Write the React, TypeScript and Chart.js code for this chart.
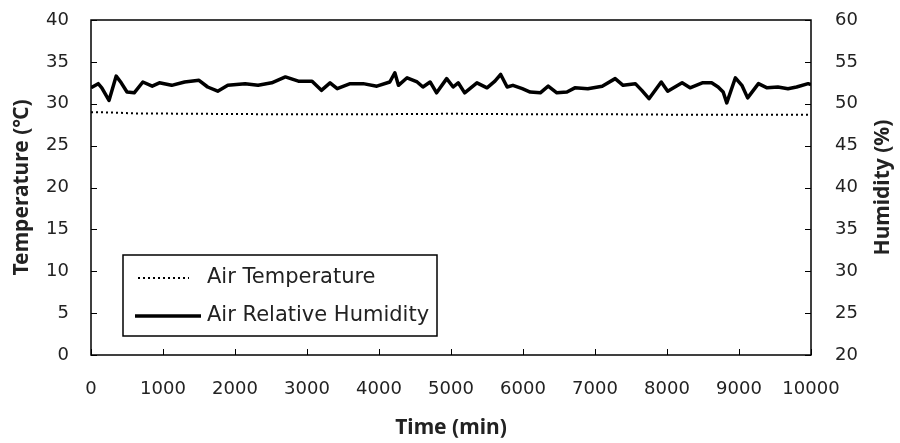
import React, { useEffect, useRef } from "react";
import { Chart, registerables } from "chart.js";

Chart.register(...registerables);

const humTimes = [0, 100, 150, 250, 350, 420, 500, 600, 720, 850, 950, 1120, 1300, 1500, 1620, 1760, 1900, 2140, 2320, 2510, 2700, 2880, 3070, 3200, 3320, 3420, 3600, 3780, 3970, 4150, 4220, 4270, 4390, 4530, 4610, 4710, 4800, 4940, 5030, 5100, 5190, 5360, 5500, 5610, 5690, 5780, 5860, 5990, 6100, 6240, 6350, 6470, 6610, 6720, 6900, 7100, 7280, 7390, 7560, 7650, 7750, 7920, 8010, 8210, 8320, 8490, 8620, 8710, 8780, 8830, 8950, 9040, 9120, 9270, 9390, 9540, 9680, 9800, 9960, 10000];
const humValues = [51.9, 52.4, 51.9, 50.4, 53.3, 52.5, 51.4, 51.3, 52.6, 52.1, 52.5, 52.2, 52.6, 52.8, 52.0, 51.5, 52.2, 52.4, 52.2, 52.5, 53.2, 52.7, 52.7, 51.6, 52.5, 51.8, 52.4, 52.4, 52.1, 52.6, 53.7, 52.2, 53.1, 52.6, 52.0, 52.6, 51.3, 53.0, 52.0, 52.5, 51.3, 52.5, 51.9, 52.7, 53.5, 52.0, 52.2, 51.8, 51.4, 51.3, 52.1, 51.3, 51.4, 51.9, 51.8, 52.1, 53.0, 52.2, 52.4, 51.6, 50.6, 52.6, 51.5, 52.5, 51.9, 52.5, 52.5, 52.0, 51.4, 50.1, 53.1, 52.2, 50.7, 52.4, 51.9, 52.0, 51.8, 52.0, 52.4, 52.3];

const tempTimes = [0, 300, 600, 1500, 2500, 4000, 5000, 6000, 7000, 8000, 9000, 10000];
const tempValues = [29.0, 28.95, 28.85, 28.8, 28.75, 28.75, 28.8, 28.75, 28.75, 28.7, 28.7, 28.7];

const xTicks = [0, 1000, 2000, 3000, 4000, 5000, 6000, 7000, 8000, 9000, 10000];
const tempTicks = [0, 5, 10, 15, 20, 25, 30, 35, 40];
const humTicks = [20, 25, 30, 35, 40, 45, 50, 55, 60];

const TICK_FONT = "'DejaVu Sans', sans-serif";
const TITLE_FONT = "'Noto Sans', sans-serif";
const TEXT = "#222";

const frameAndTicks = {
  id: "frameAndTicks",
  afterDatasetsDraw(chart: any) {
    const { ctx, chartArea } = chart;
    const { left, right, top, bottom } = chartArea;
    const sx = chart.scales.x;
    const sy = chart.scales.y;
    const sy2 = chart.scales.y2;
    ctx.save();
    ctx.strokeStyle = "#000";
    ctx.lineWidth = 1.5;
    ctx.strokeRect(left, top, right - left, bottom - top);
    ctx.lineWidth = 1;
    ctx.beginPath();
    xTicks.forEach((t) => {
      const px = Math.round(sx.getPixelForValue(t)) + 0.5;
      ctx.moveTo(px, bottom);
      ctx.lineTo(px, bottom - 6);
    });
    tempTicks.forEach((t) => {
      const py = Math.round(sy.getPixelForValue(t)) + 0.5;
      ctx.moveTo(left, py);
      ctx.lineTo(left + 6, py);
    });
    humTicks.forEach((t) => {
      const py = Math.round(sy2.getPixelForValue(t)) + 0.5;
      ctx.moveTo(right, py);
      ctx.lineTo(right - 6, py);
    });
    ctx.stroke();
    ctx.restore();
  },
};

const rightTitle = {
  id: "rightTitle",
  afterDraw(chart: any) {
    const { ctx, chartArea } = chart;
    const s = chart.scales.y2;
    ctx.save();
    ctx.translate(s.right - 17, (chartArea.top + chartArea.bottom) / 2);
    ctx.rotate(-Math.PI / 2);
    ctx.font = `bold 21px ${TITLE_FONT}`;
    ctx.fillStyle = TEXT;
    ctx.textAlign = "center";
    ctx.textBaseline = "middle";
    ctx.fillText("Humidity (%)", 0, 0);
    ctx.restore();
  },
};

const boxLegend = {
  id: "boxLegend",
  afterDraw(chart: any) {
    const { ctx, chartArea } = chart;
    const bx = chartArea.left + 32;
    const by = chartArea.top + 235;
    const bw = 314;
    const bh = 81;
    ctx.save();
    ctx.fillStyle = "#fff";
    ctx.fillRect(bx, by, bw, bh);
    ctx.strokeStyle = "#000";
    ctx.lineWidth = 1.5;
    ctx.strokeRect(bx, by, bw, bh);
    const rows = [
      { ds: chart.data.datasets[0], y: by + 23, x0: bx + 15, x1: bx + 66 },
      { ds: chart.data.datasets[1], y: by + 61, x0: bx + 12, x1: bx + 78 },
    ];
    ctx.font = `21px ${TICK_FONT}`;
    ctx.textBaseline = "middle";
    rows.forEach((r) => {
      ctx.beginPath();
      ctx.strokeStyle = r.ds.borderColor;
      ctx.lineWidth = r.ds.borderWidth;
      ctx.setLineDash(r.ds.borderDash || []);
      ctx.moveTo(r.x0, r.y);
      ctx.lineTo(r.x1, r.y);
      ctx.stroke();
      ctx.setLineDash([]);
      ctx.fillStyle = TEXT;
      ctx.fillText(r.ds.label, bx + 84, r.y);
    });
    ctx.restore();
  },
};

const noPad = (s: any) => {
  s.paddingTop = 0;
  s.paddingBottom = 0;
  s.paddingLeft = 0;
  s.paddingRight = 0;
};

export default function App() {
  const ref = useRef<HTMLCanvasElement>(null);
  useEffect(() => {
    if (!ref.current) return;
    const chart = new Chart(ref.current, {
      type: "line",
      data: {
        datasets: [
          {
            label: "Air Temperature",
            data: tempTimes.map((t, i) => ({ x: t, y: tempValues[i] })),
            borderColor: "#000",
            borderWidth: 2,
            borderDash: [2, 3],
            pointRadius: 0,
            yAxisID: "y",
            tension: 0,
          },
          {
            label: "Air Relative Humidity",
            data: humTimes.map((t, i) => ({ x: t, y: humValues[i] })),
            borderColor: "#000",
            borderWidth: 3.5,
            pointRadius: 0,
            yAxisID: "y2",
            tension: 0,
            borderJoinStyle: "round",
          },
        ],
      },
      options: {
        responsive: false,
        animation: false,
        layout: { padding: { top: 20, left: 0, right: 0, bottom: 0 } },
        plugins: { legend: { display: false }, tooltip: { enabled: false } },
        scales: {
          x: {
            type: "linear",
            min: 0,
            max: 10000,
            afterBuildTicks: (s: any) => { s.ticks = xTicks.map((v) => ({ value: v })); },
            afterFit: (s: any) => { s.height = 88; noPad(s); },
            grid: { display: false, drawTicks: false },
            border: { display: false },
            ticks: { padding: 24, maxRotation: 0, autoSkip: false, color: TEXT, font: { family: TICK_FONT, size: 18 }, callback: (v: any) => String(v) },
            title: { display: true, text: "Time (min)", color: TEXT, font: { family: TITLE_FONT, size: 21, weight: "bold" }, padding: { top: 2, bottom: 2 } },
          },
          y: {
            position: "left",
            min: 0,
            max: 40,
            afterBuildTicks: (s: any) => { s.ticks = tempTicks.map((v) => ({ value: v })); },
            afterFit: (s: any) => { s.width = 91; noPad(s); },
            grid: { display: false, drawTicks: false },
            border: { display: false },
            ticks: { padding: 22, color: TEXT, font: { family: TICK_FONT, size: 18 } },
            title: { display: true, text: "Temperature (\u2103)", color: TEXT, font: { family: TITLE_FONT, size: 21, weight: "bold" }, padding: { top: 9, bottom: 2 } },
          },
          y2: {
            position: "right",
            min: 20,
            max: 60,
            afterBuildTicks: (s: any) => { s.ticks = humTicks.map((v) => ({ value: v })); },
            afterFit: (s: any) => { s.width = 89; noPad(s); },
            grid: { display: false, drawTicks: false },
            border: { display: false },
            ticks: { padding: 24, color: TEXT, font: { family: TICK_FONT, size: 18 } },
            title: { display: false, text: "Humidity (%)" },
          },
        },
      },
      plugins: [frameAndTicks, boxLegend, rightTitle],
    } as any);
    return () => chart.destroy();
  }, []);
  return (
    <div style={{ position: "absolute", left: 0, top: 0, width: 900, height: 443, background: "#fff" }}>
      <canvas ref={ref} width={900} height={443} style={{ display: "block" }} />
    </div>
  );
}
